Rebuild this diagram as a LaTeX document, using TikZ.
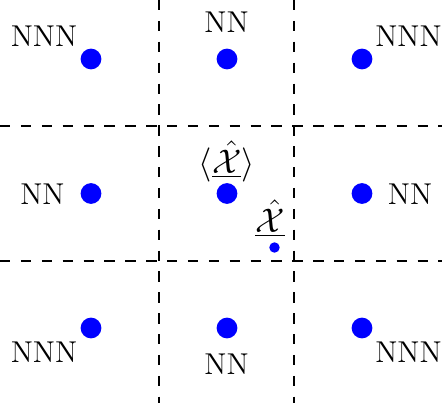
\documentclass[tikz,border=0pt]{standalone}
\begin{document}
\begin{tikzpicture}[x=0.148148mm,y=-0.148148mm,
  site/.style={circle,fill=blue,inner sep=0pt,minimum size=3.07mm},
  smallsite/.style={circle,fill=blue,inner sep=0pt,minimum size=1.55mm},
  lbl/.style={inner sep=0pt,font=\fontsize{12.7}{15}\selectfont},
  mlbl/.style={inner sep=0pt,font=\fontsize{13.5}{16}\selectfont},
  grid line/.style={line width=0.8pt,dash pattern=on 4.4pt off 4.4pt}]
\useasboundingbox (0,0) rectangle (442,403);
% dashed cell boundaries
\draw[grid line] (159,0) -- (159,403);
\draw[grid line] (294,0) -- (294,403);
\draw[grid line] (0,126) -- (442,126);
\draw[grid line] (0,261) -- (442,261);
% sites
\node[site] (s11) at (91,59) {};
\node[site] (s12) at (227,59) {};
\node[site] (s13) at (362,59) {};
\node[site] (s21) at (91,193.5) {};
\node[site] (s22) at (227,193.5) {};
\node[site] (s23) at (362,193.5) {};
\node[site] (s31) at (91,328) {};
\node[site] (s32) at (227,328) {};
\node[site] (s33) at (362,328) {};
\node[smallsite] (x) at (274.5,247.5) {};
% labels
\node[lbl,anchor=base] (l11) at (44,46.7) {NNN};
\node[lbl,anchor=base] (l12) at (226.5,32.3) {NN};
\node[lbl,anchor=base] (l13) at (408.5,46.7) {NNN};
\node[lbl,anchor=base] (l21) at (42.5,204.3) {NN};
\node[lbl,anchor=base] (l23) at (410,204.3) {NN};
\node[lbl,anchor=base] (l31) at (44,362.3) {NNN};
\node[lbl,anchor=base] (l32) at (226.5,375) {NN};
\node[lbl,anchor=base] (l33) at (408.5,362.3) {NNN};
\node[mlbl,anchor=south] (lc) at (226.7,182.5) {$\langle\underline{\hat{\mathcal{X}}}\rangle$};
\node[mlbl,anchor=south] (lx) at (270,237.5) {$\underline{\hat{\mathcal{X}}}$};
\end{tikzpicture}
\end{document}
